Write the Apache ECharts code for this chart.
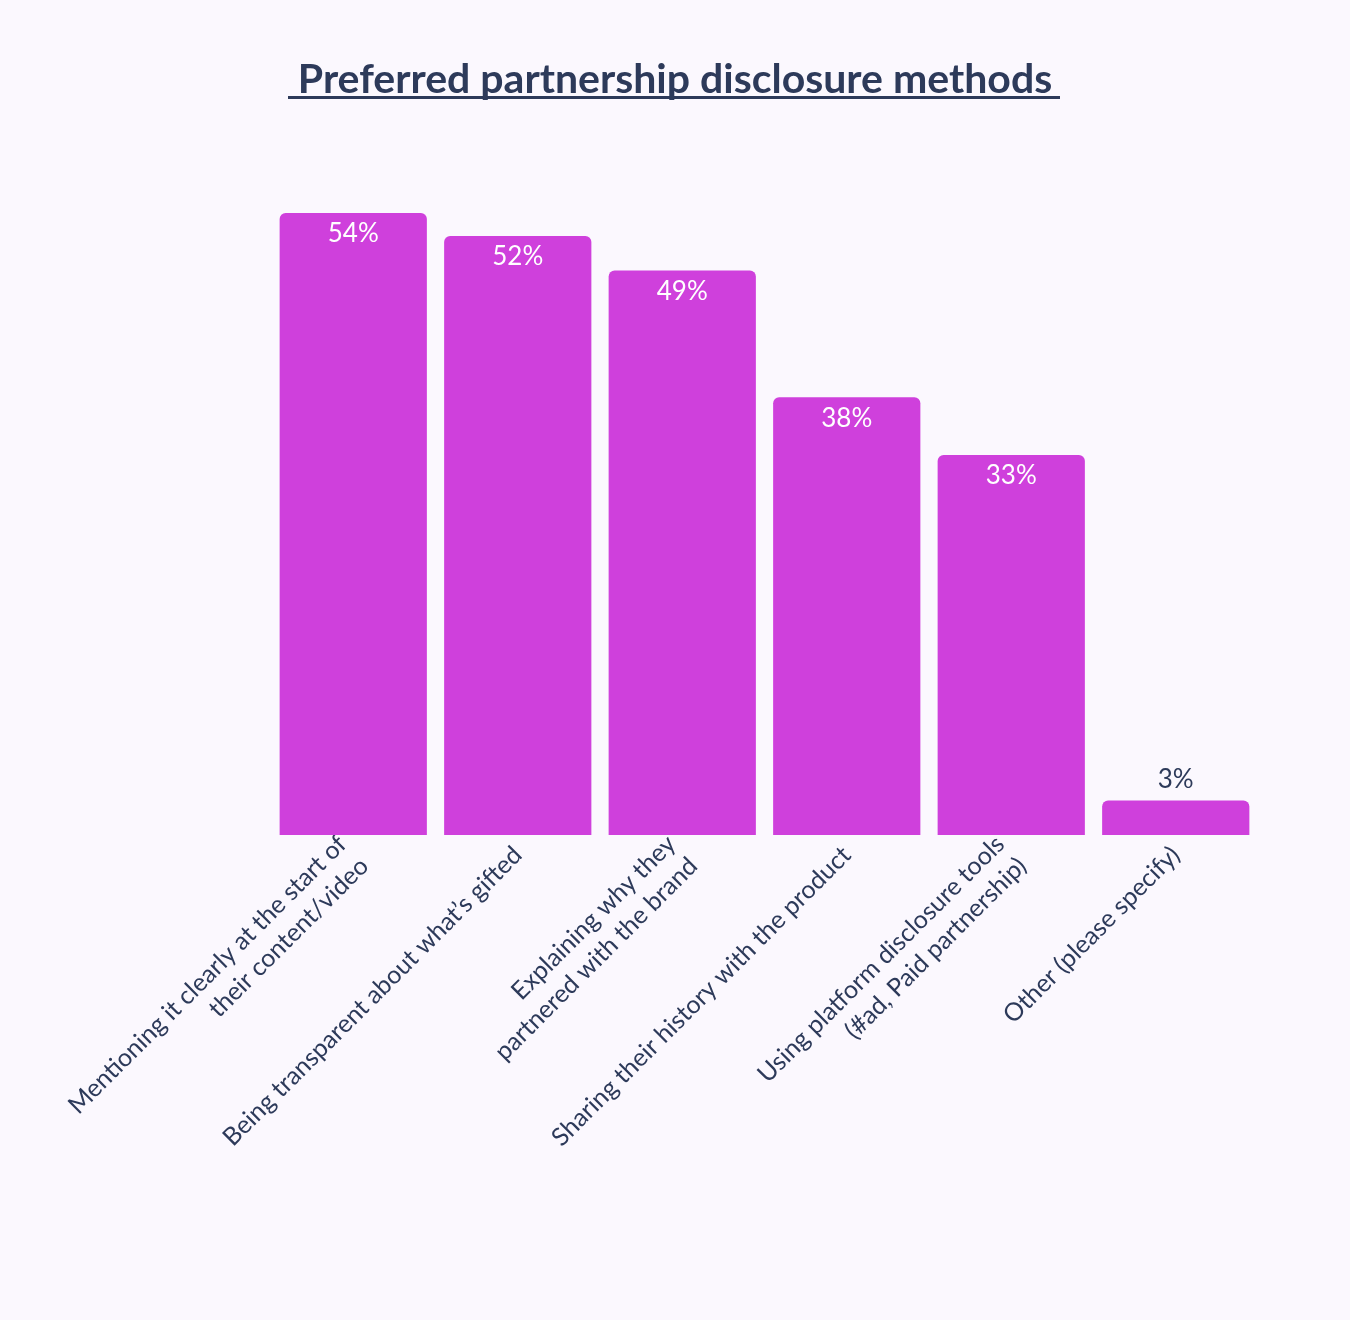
<!DOCTYPE html>
<html><head><meta charset="utf-8">
<script src="https://cdn.jsdelivr.net/npm/echarts@6/dist/echarts.min.js"></script>
<style>html,body{margin:0;background:#fbf8fe}#c{width:1350px;height:1320px}</style>
</head><body><div id="c"></div>
<script>
const categories = ["Mentioning it clearly at the start of\ntheir content/video","Being transparent about what’s gifted","Explaining why they\npartnered with the brand","Sharing their history with the product","Using platform disclosure tools\n(#ad, Paid partnership)","Other (please specify)"];
const values = [54,52,49,38,33,3];
const chart = echarts.init(document.getElementById('c'));
chart.setOption({
  backgroundColor:'#fbf8fe',
  title:{text:'Preferred partnership disclosure methods',left:'center',top:54,
    textStyle:{fontFamily:'Lato',fontSize:41,fontWeight:'bold',color:'#2d3a5a'}},
  graphic:[{type:'rect',shape:{x:288,y:96,width:772,height:3},style:{fill:'#2d3a5a'}}],
  grid:{left:271,right:92,top:213,bottom:485},
  xAxis:{type:'category',data:categories,axisLine:{show:false},axisTick:{show:false},
    axisLabel:{rotate:45,interval:0,fontFamily:'Lato',fontSize:25,color:'#2d3a5a',lineHeight:31,align:'right',margin:16}},
  yAxis:{type:'value',min:0,max:54,show:false,splitLine:{show:false}},
  series:[{type:'bar',barCategoryGap:'10.5%',
    data:values.map(v=>({value:v,label:v<10?{position:'top',color:'#2d3a5a'}:{}})),
    itemStyle:{color:'#cf40dc',borderRadius:[6,6,0,0]},
    label:{show:true,position:'insideTop',formatter:'{c}%',color:'#ffffff',fontFamily:'Lato',fontSize:26,distance:8}}]
});
</script></body></html>
